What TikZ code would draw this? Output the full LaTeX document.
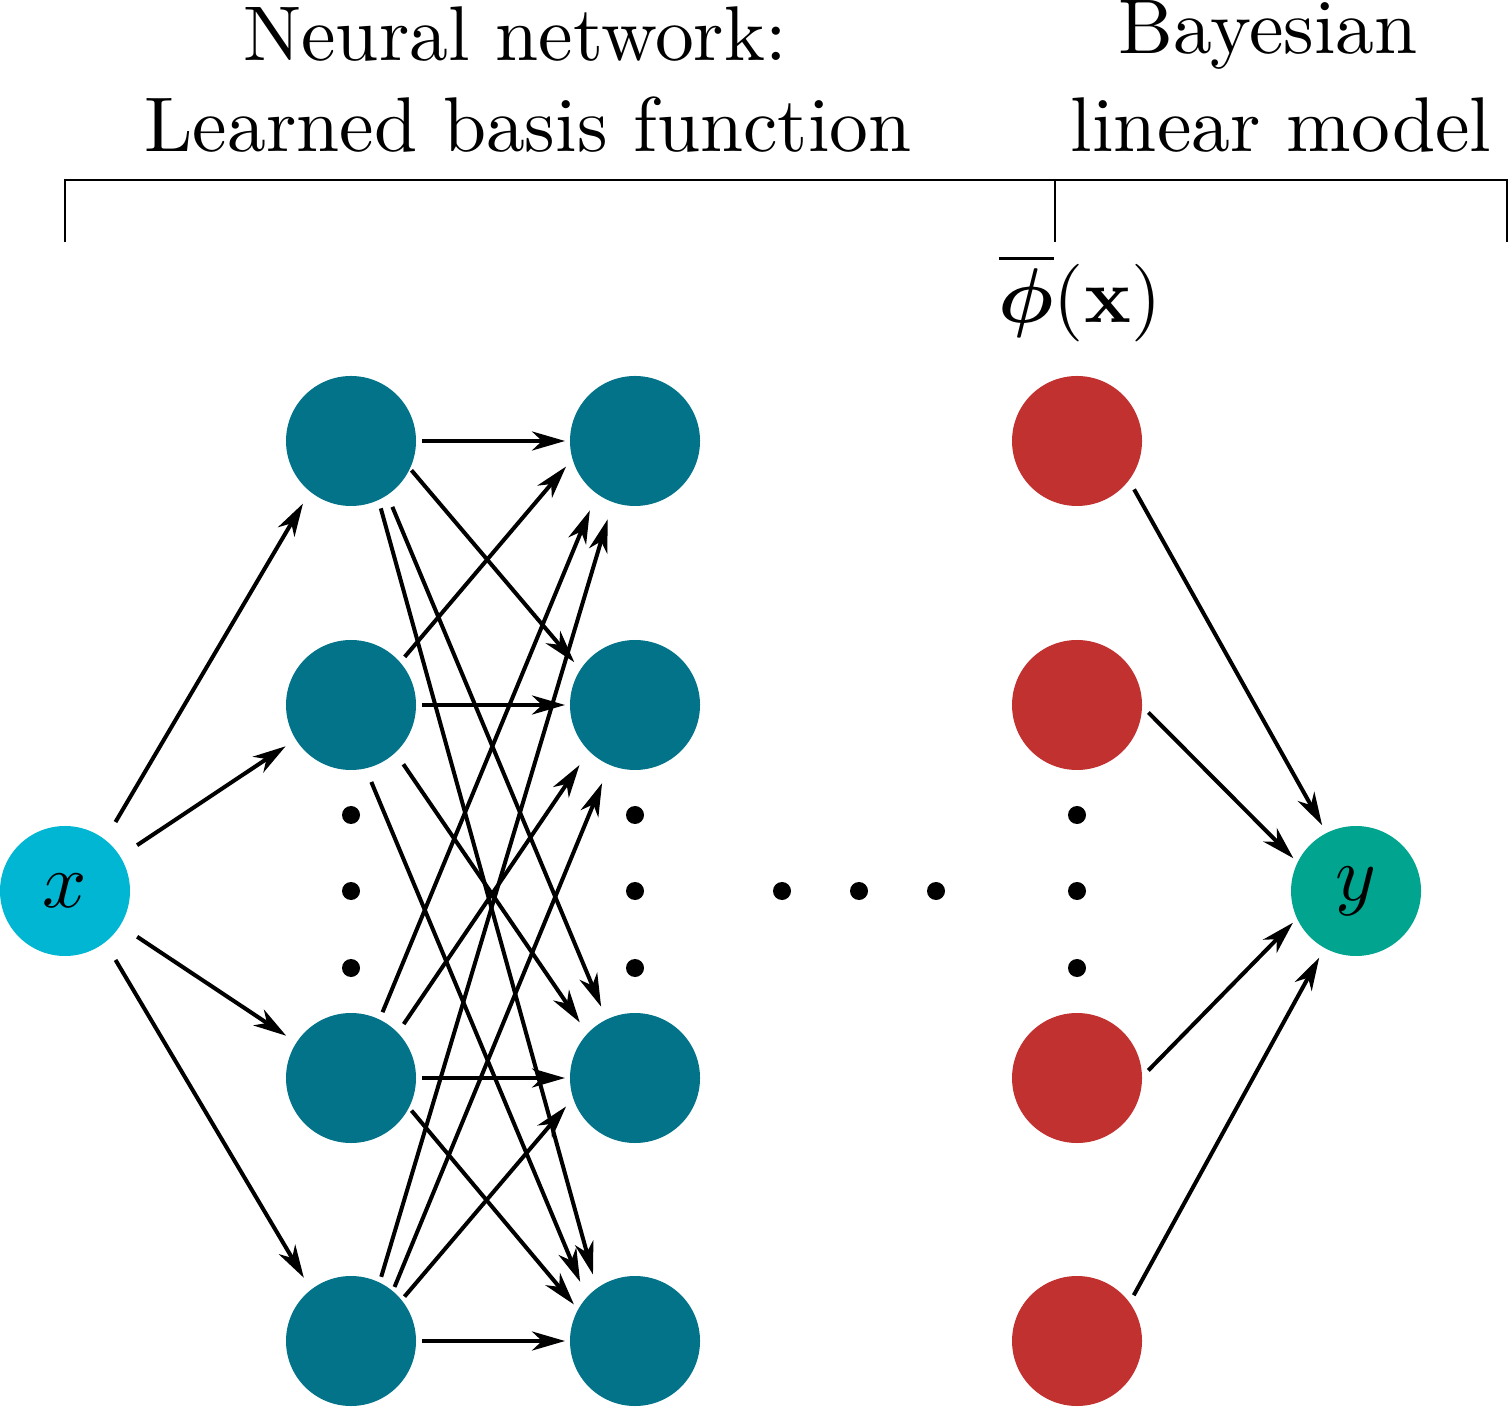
\documentclass[tikz,border=0pt]{standalone}
\usepackage{bm}
\usetikzlibrary{arrows.meta}
\definecolor{nnteal}{RGB}{2,115,137}
\definecolor{nncyan}{RGB}{0,182,210}
\definecolor{nnred}{RGB}{193,49,47}
\definecolor{nngreen}{RGB}{0,164,143}
\newdimen\px
\px=0.1289pt
\tikzset{
  neuron/.style={circle, minimum size=130\px, inner sep=0pt, outer sep=0pt, draw=none},
  hid/.style={neuron, fill=nnteal},
  feat/.style={neuron, fill=nnred},
  dotnode/.style={circle, fill=black, minimum size=18\px, inner sep=0pt, outer sep=0pt},
  arr/.style 2 args={-{Stealth[length=4.25pt,width=2.45pt,inset=1.29pt]}, line width=4\px, shorten <=#1\px, shorten >=#2\px},
  bracketline/.style={line width=2\px},
  lbl/.style={anchor=base, inner sep=0pt, outer sep=0pt}
}
\begin{document}
\begin{tikzpicture}[x=0.1289pt,y=-0.1289pt]
\useasboundingbox (0,0) rectangle (1509,1407);

% headings
\node[lbl] (h1) at (515,61) {Neural network:};
\node[lbl] (h2) at (528,152) {Learned basis function};
\node[lbl] (h3) at (1268,54) {Bayesian};
\node[lbl] (h4) at (1281,152) {linear model};

% bracket
\coordinate (bl) at (65,242);
\coordinate (bltop) at (65,180);
\coordinate (brtop) at (1507,180);
\coordinate (br) at (1507,242);
\coordinate (bmtop) at (1055,180);
\coordinate (bm) at (1055,242);
\draw[bracketline] (bl) -- (bltop) -- (brtop) -- (br);
\draw[bracketline] (bmtop) -- (bm);

\node[lbl] (phi) at (1080,323) {$\overline{\bm{\phi}}(\mathbf{x})$};

% nodes
\node[neuron, fill=nncyan] (X) at (65,891) {$x$};
\node[hid] (T1) at (351,441) {};
\node[hid] (S1) at (351,705) {};
\node[hid] (H1) at (351,1078) {};
\node[hid] (B1) at (351,1341) {};
\node[hid] (T2) at (635,441) {};
\node[hid] (S2) at (635,705) {};
\node[hid] (H2) at (635,1078) {};
\node[hid] (B2) at (635,1341) {};
\node[feat] (R1) at (1077,441) {};
\node[feat] (R2) at (1077,705) {};
\node[feat] (R3) at (1077,1078) {};
\node[feat] (R4) at (1077,1341) {};
\node[neuron, fill=nngreen] (Y) at (1356,891) {$y$};

% dots
\node[dotnode] (da1) at (351,815) {};
\node[dotnode] (da2) at (351,891) {};
\node[dotnode] (da3) at (351,968) {};
\node[dotnode] (db1) at (635,815) {};
\node[dotnode] (db2) at (635,891) {};
\node[dotnode] (db3) at (635,968) {};
\node[dotnode] (dc1) at (1077,815) {};
\node[dotnode] (dc2) at (1077,891) {};
\node[dotnode] (dc3) at (1077,968) {};
\node[dotnode] (dh1) at (782,891) {};
\node[dotnode] (dh2) at (859,891) {};
\node[dotnode] (dh3) at (936,891) {};

% input -> layer 1
\draw[arr={20.6}{14}] (X.52.6) -- (T1.231.7);
\draw[arr={20.4}{12.4}] (X.32.6) -- (S1.212.9);
\draw[arr={20.4}{12.4}] (X.-32.6) -- (H1.147.1);
\draw[arr={20.6}{14}] (X.-52.6) -- (B1.128.3);

% layer 1 -> layer 2
\draw[arr={6}{5}] (T1.0) -- (T2.180);
\draw[arr={2.4}{9.6}] (T1.-25.4) -- (S2.147.6);
\draw[arr={13}{14}] (T1.-56.5) -- (H2.116.2);
\draw[arr={8.8}{14.4}] (T1.-65.2) -- (B2.126.3);

\draw[arr={7.2}{10}] (S1.41.6) -- (T2.196.3);
\draw[arr={6}{5}] (S1.0) -- (S2.180);
\draw[arr={14.2}{13.6}] (S1.-47) -- (H2.137.6);
\draw[arr={14.8}{17}] (S1.-77.7) -- (B2.138);

\draw[arr={8}{18.2}] (H1.64.8) -- (T2.234.8);
\draw[arr={10.6}{17}] (H1.44.5) -- (S2.225);
\draw[arr={6}{5}] (H1.0) -- (H2.180);
\draw[arr={4}{6.6}] (H1.-27.7) -- (B2.151.6);

\draw[arr={6}{18}] (B1.64.2) -- (T2.250.3);
\draw[arr={4.6}{19.8}] (B1.50.8) -- (S2.247.1);
\draw[arr={4.6}{11}] (B1.39.2) -- (H2.198.4);
\draw[arr={6}{5}] (B1.0) -- (B2.180);

% features -> output
\draw[arr={10.6}{9}] (R1.-37.5) -- (Y.117.3);
\draw[arr={9}{6}] (R2.-1.5) -- (Y.154.2);
\draw[arr={9}{6}] (R3.1.5) -- (Y.205.8);
\draw[arr={8.6}{11}] (R4.36.7) -- (Y.241.7);
\end{tikzpicture}
\end{document}
